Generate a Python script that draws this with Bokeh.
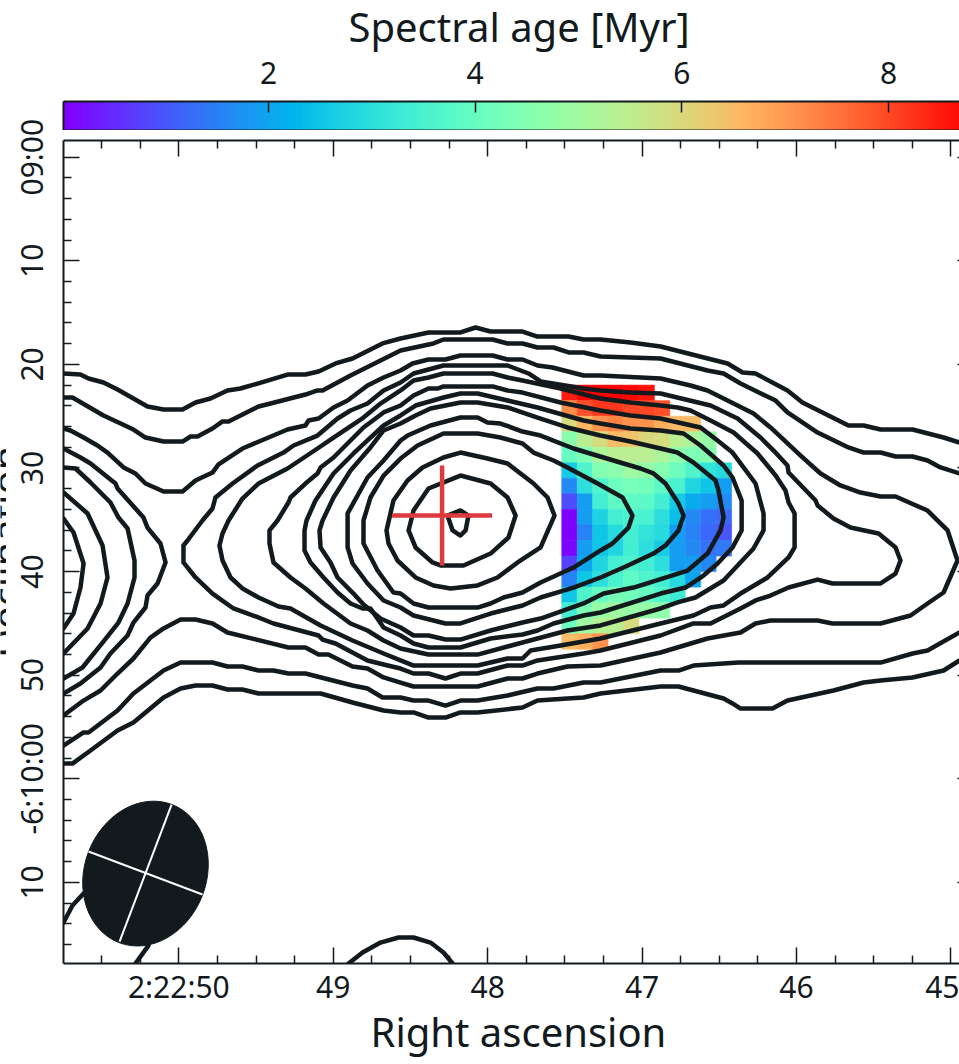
import numpy as np
from bokeh.embed import file_html
from bokeh.layouts import column, row
from bokeh.models import (ColumnDataSource, CustomLabelingPolicy, FixedTicker, Label, LinearAxis, LinearColorMapper, Range1d, Title)
from bokeh.plotting import figure
from bokeh.resources import INLINE
from bokeh.transform import transform

# ---- axis values -------------------------------------------------------
ra_major = [50, 49, 48, 47, 46, 45]
ra_labels = ["2:22:50", "49", "48", "47", "46", "45"]
dec_major = [0, 10, 20, 30, 40, 50, 60, 70]
dec_labels = ["09:00", "10", "20", "30", "40", "50", "-6:10:00", "10"]
age_major = [2, 4, 6, 8]
age_labels = ["2", "4", "6", "8"]

# ---- spectral age map (Myr); rows from north to south, columns east to west
N = None
age_rows = [
    [8.5, 8.8, 8.8, 8.8, 8.7, 8.6, N, N, N, N, N],
    [7.2, 7.9, 8.2, 8.2, 8.0, 8.0, 7.9, N, N, N, N],
    [5.9, 6.6, 7.1, 7.3, 7.1, 7.1, 6.7, 6.5, 6.5, N, N],
    [4.6, 5.4, 5.9, 6.5, 6.4, 6.0, 5.9, 5.4, 5.2, 4.8, N],
    [4.0, 4.4, 5.2, 5.4, 5.4, 5.4, 5.2, 4.7, 4.4, 4.5, N],
    [2.6, 3.6, 4.5, 4.6, 5.0, 4.8, 4.5, 4.1, 3.6, 3.1, 2.9],
    [1.6, 3.0, 3.6, 4.1, 4.3, 4.2, 3.8, 3.5, 2.8, 2.5, 1.9],
    [0.9, 1.9, 3.4, 3.9, 3.9, 3.8, 3.4, 2.6, 2.1, 1.9, 1.6],
    [0.0, 1.9, 2.7, 3.4, 3.5, 3.5, 3.0, 2.4, 1.6, 1.3, 1.2],
    [0.0, 1.5, 2.5, 2.9, 3.4, 3.1, 2.9, 1.9, 1.5, 1.2, 1.0],
    [0.1, 1.9, 2.5, 2.8, 3.4, 3.0, 2.6, 1.9, 1.6, 1.3, 1.4],
    [0.8, 2.0, 2.8, 3.4, 3.6, 3.4, 3.0, 1.9, 1.9, 1.6, N],
    [1.5, 2.5, 3.0, 3.5, 3.9, 3.6, 3.4, 2.9, 2.0, N, N],
    [2.5, 3.6, 4.0, 4.3, 4.2, 4.0, 3.6, 3.3, N, N, N],
    [3.4, 4.4, 4.8, 5.0, 4.8, 4.8, 4.7, N, N, N, N],
    [4.1, 5.0, 5.3, 5.4, 5.9, N, N, N, N, N, N],
    [6.5, 6.7, 7.1, N, N, N, N, N, N, N, N],
]
age_ra_start = 47.52
age_ra_step = 0.1
age_dec_start = 22.0
age_dec_step = 1.5

# ---- radio contours: right ascension (s after 2:22:00), declination (arcsec after -6:09:00)
c1_top_ra = [50.747,50.637,50.585,50.488,50.397,50.203,50.099,49.976,49.892,49.795,49.685,49.601,49.490,49.296,49.180,49.095,48.985,48.875,48.681,48.564,48.383,48.176,48.078,47.981,47.774,47.677,47.476,47.379,47.269,47.075,46.880,46.446,46.349,46.265,46.058,45.961,45.663,45.565,45.455,45.248,45.047,44.944]
c1_top_dec = [20.88,20.98,21.36,21.75,22.42,24.07,24.35,24.35,23.68,23.29,22.52,22.33,21.85,20.98,20.98,20.69,19.91,19.43,17.98,17.50,16.92,16.92,16.44,16.83,16.83,17.31,17.31,17.60,17.60,17.89,18.27,19.91,20.78,20.88,22.52,23.68,25.90,25.90,26.29,26.29,27.06,27.54]
c1_bot_ra = [50.747,50.689,50.572,50.397,50.294,50.099,49.989,49.892,49.782,49.685,49.588,49.484,49.082,48.875,48.674,48.564,48.480,48.383,48.273,48.176,48.065,47.774,47.677,47.483,47.379,47.269,46.880,46.764,46.472,46.414,46.362,46.155,46.058,45.760,45.565,45.455,45.248,45.047,44.944]
c1_bot_dec = [58.53,58.53,57.27,55.34,54.57,52.15,51.29,51.00,51.00,51.38,51.38,51.77,51.77,52.64,53.41,53.60,53.60,54.09,54.09,53.60,53.60,53.12,52.45,52.25,52.15,51.77,51.09,51.09,52.25,52.73,53.22,53.22,52.45,51.48,50.71,50.51,50.22,49.55,48.58]
c2_top_ra = [50.747,50.689,50.488,50.294,50.216,50.099,49.976,49.924,49.879,49.782,49.717,49.678,49.484,49.406,49.180,49.102,49.069,48.888,48.564,48.351,48.286,47.968,47.871,47.774,47.677,47.573,47.476,47.379,47.269,46.880,46.576,46.472,46.362,46.135,46.058,45.863,45.663,45.565,45.455,45.358,45.248,45.151,45.067,44.944]
c2_top_dec = [23.20,23.20,24.93,26.29,27.06,27.45,27.45,26.96,26.96,26.19,25.51,25.51,24.07,23.78,22.91,22.52,22.52,21.07,18.66,17.98,17.60,17.60,17.98,17.98,18.37,18.37,18.85,18.85,19.24,19.43,20.59,20.88,21.85,23.49,24.64,26.58,28.02,28.51,28.51,28.89,28.89,29.28,29.95,30.53]
c2_bot_ra = [50.747,50.617,50.585,50.397,50.294,50.099,49.989,49.782,49.685,49.588,49.484,49.387,49.290,49.180,48.875,48.778,48.681,48.564,48.480,48.383,48.273,48.176,48.065,47.871,47.677,47.573,47.379,47.269,46.880,46.764,46.667,46.472,46.375,45.455,45.248,45.151,44.944]
c2_bot_dec = [56.79,55.53,55.53,53.41,51.77,49.55,48.78,48.78,49.16,49.16,49.55,49.55,49.84,49.84,51.00,51.29,52.15,52.15,52.45,52.45,52.93,52.45,52.45,51.96,51.29,51.29,50.71,50.71,49.55,49.55,49.07,48.87,48.78,48.78,47.91,47.62,45.88]
c3_ra = [50.747,50.702,50.617,50.527,50.462,50.358,50.281,50.216,50.099,49.976,49.892,49.782,49.743,49.588,49.419,49.296,49.180,49.160,49.095,48.998,48.907,48.778,48.674,48.564,48.487,48.383,48.273,48.176,47.968,47.871,47.774,47.677,47.580,47.379,47.269,46.880,46.686,46.576,46.472,46.278,46.168,45.973,45.844,45.715,45.585,45.455,45.358,45.151,45.021,44.957,45.047,45.151,45.261,45.455,45.766,45.863,46.168,46.265,46.362,46.576,46.880,47.269,47.483,47.677,47.774,47.871,48.065,48.480,48.564,48.674,48.778,48.875,49.031,49.095,49.180,49.290,49.685,49.782,49.892,49.989,50.099,50.184,50.294,50.397,50.507,50.617,50.747]
c3_dec = [26.19,26.38,27.06,27.83,28.51,29.95,30.53,31.50,32.27,32.27,31.21,30.44,29.66,28.12,27.06,26.29,25.90,25.42,25.22,24.16,23.49,22.04,21.27,20.59,19.91,19.53,19.53,19.14,19.14,19.53,19.53,20.11,20.30,21.07,21.07,21.36,22.04,22.52,23.29,24.74,26.09,28.80,30.53,31.69,32.37,32.75,32.75,34.11,36.03,38.93,42.02,43.08,44.24,45.01,45.01,44.72,44.72,45.01,45.88,46.46,47.81,49.07,49.16,49.84,50.32,50.32,51.09,51.09,50.71,50.22,49.36,49.16,48.01,48.01,47.33,47.33,45.88,45.01,44.63,44.63,45.49,46.37,48.39,49.84,51.48,52.45,53.89]
c4_ra = [49.970,49.944,49.847,49.782,49.763,49.652,49.490,49.322,49.257,49.102,48.972,48.888,48.778,48.674,48.564,48.480,48.286,47.871,47.735,47.657,47.379,47.269,47.075,46.880,46.556,46.381,46.233,46.148,46.058,46.051,45.876,45.863,45.760,45.650,45.468,45.358,45.326,45.358,45.455,45.766,45.863,46.051,46.168,46.265,46.362,46.556,46.667,46.880,47.269,47.379,47.677,47.774,47.871,48.065,48.176,48.273,48.383,48.480,48.564,48.674,48.778,48.985,49.069,49.095,49.290,49.387,49.484,49.646,49.782,49.892,49.970]
c4_dec = [37.48,37.00,35.07,33.91,32.85,31.50,29.76,28.51,27.83,26.87,25.22,24.45,23.78,22.52,21.75,20.88,20.11,20.11,20.88,21.65,22.33,22.52,22.72,22.81,23.97,25.22,27.06,28.32,29.76,30.44,33.14,33.62,34.88,35.75,36.32,37.67,38.93,40.19,41.15,41.15,40.77,41.54,42.31,42.79,43.56,45.01,45.01,46.17,47.62,47.91,48.58,49.07,49.07,49.84,49.84,50.32,49.84,49.84,49.36,48.97,48.58,46.94,46.56,46.17,45.40,45.01,44.43,43.56,42.12,40.57,39.12]
c5_ra = [49.737,49.717,49.678,49.588,49.484,49.296,49.102,48.998,48.804,48.694,48.564,48.480,48.383,48.286,47.968,47.871,47.774,47.528,47.269,47.075,46.880,46.770,46.686,46.556,46.407,46.252,46.135,46.071,46.051,46.012,46.012,46.051,46.187,46.362,46.472,46.556,46.667,46.880,47.269,47.528,47.722,47.774,47.871,48.065,48.480,48.564,48.674,48.875,49.082,49.277,49.354,49.484,49.588,49.665,49.717]
c5_dec = [37.48,36.32,35.07,32.95,31.50,30.05,28.12,27.06,25.13,23.78,22.52,21.56,21.27,20.88,20.88,21.27,21.56,22.33,23.29,23.68,23.97,24.16,24.45,25.42,26.58,28.60,30.73,32.17,33.33,34.39,37.67,38.64,40.57,42.12,43.27,43.47,44.24,45.01,46.46,47.14,47.62,48.39,48.39,49.07,49.07,48.58,47.91,46.65,45.20,43.56,43.37,42.50,41.63,40.57,38.93]
c6_ra = [49.413,49.413,49.361,49.290,49.277,49.180,49.102,49.082,48.998,48.804,48.674,48.564,48.480,48.383,48.325,48.286,47.968,47.871,47.774,47.528,47.269,47.075,46.880,46.621,46.511,46.414,46.265,46.213,46.213,46.278,46.472,46.654,46.770,46.880,47.269,47.483,47.677,47.871,48.065,48.383,48.564,48.674,48.778,48.888,49.063,49.180,49.277,49.387]
c6_dec = [37.29,36.03,35.07,33.33,32.85,31.50,30.53,29.95,28.99,26.09,24.64,23.97,23.00,22.33,22.33,22.13,22.13,22.52,22.72,23.68,24.45,24.93,25.22,26.09,27.35,28.51,31.50,34.39,36.03,37.77,40.86,42.50,42.98,43.56,45.20,45.69,46.46,47.23,48.01,48.01,47.43,46.65,45.69,45.01,43.08,41.63,40.57,39.12]
c7_ra = [49.186,49.186,49.173,49.115,48.998,48.869,48.759,48.674,48.564,48.467,48.286,48.176,48.065,47.871,47.677,47.379,47.269,47.075,46.880,46.731,46.621,46.472,46.414,46.355,46.355,46.414,46.511,46.602,46.718,46.880,47.269,47.379,47.573,47.677,47.774,47.981,48.176,48.383,48.480,48.564,48.674,48.759,48.810,48.888,48.972,49.063,49.147]
c7_dec = [37.96,36.03,35.07,33.14,30.53,28.60,27.06,25.90,24.93,23.97,23.20,22.81,22.81,23.49,24.16,25.42,25.71,26.19,26.38,26.67,27.83,29.76,30.92,33.14,36.03,37.67,39.22,40.38,41.54,42.12,43.95,44.24,45.01,45.69,46.07,46.46,47.33,47.33,46.94,46.17,45.40,43.56,43.56,43.08,42.02,40.57,39.12]
c8_ra = [49.082,49.089,49.069,48.998,48.888,48.759,48.674,48.564,48.467,48.370,48.176,48.065,47.871,47.677,47.483,47.269,47.075,46.880,46.770,46.667,46.524,46.505,46.472,46.492,46.576,46.705,47.055,47.249,47.379,47.657,47.774,47.981,48.176,48.273,48.383,48.480,48.564,48.694,48.804,48.869,48.972,49.018]
c8_dec = [37.67,36.03,35.07,32.85,30.24,28.02,26.38,25.71,24.93,24.26,23.68,23.68,24.16,25.13,26.09,26.87,27.45,28.12,28.51,29.47,31.21,32.17,34.78,36.03,38.26,39.90,41.54,42.12,43.08,44.53,44.92,45.69,46.56,46.56,46.17,46.17,45.40,44.53,43.18,42.12,40.57,39.12]
c9_ra = [48.907,48.907,48.778,48.674,48.564,48.519,48.370,48.176,48.065,48.001,47.917,47.774,47.657,47.444,47.120,47.010,46.926,46.848,46.764,46.731,46.764,46.848,46.926,47.120,47.269,47.444,47.657,47.774,47.981,48.176,48.273,48.480,48.564,48.674,48.778,48.875]
c9_dec = [37.67,34.39,30.92,29.28,27.35,26.87,25.90,25.13,25.13,25.61,25.71,26.48,26.87,28.12,29.57,30.05,30.53,31.50,33.43,34.59,36.03,37.48,38.26,39.61,40.57,41.54,42.50,43.27,44.05,45.01,45.01,44.24,43.47,42.79,41.15,39.22]
c10_ra = [48.804,48.804,48.759,48.674,48.564,48.454,48.286,48.065,47.917,47.774,47.703,47.573,47.483,47.288,47.126,47.062,47.088,47.191,47.269,47.444,47.657,47.774,47.897,47.981,48.065,48.383,48.480,48.564,48.610,48.713]
c10_dec = [37.29,35.07,32.85,30.73,29.09,27.83,26.67,26.67,27.06,27.64,28.51,29.28,29.95,31.50,32.85,34.59,35.75,37.29,37.96,39.61,41.05,42.02,42.50,43.08,43.47,43.47,43.08,42.12,42.02,39.90]
c11_ra = [48.655,48.610,48.519,48.422,48.286,48.176,48.001,47.871,47.703,47.612,47.567,47.657,47.806,47.936,48.065,48.240,48.351,48.467,48.584,48.642]
c11_dec = [36.03,33.14,31.21,29.95,28.99,28.51,29.09,29.57,31.50,32.85,34.59,37.67,39.12,40.57,41.34,41.63,41.34,40.57,38.93,37.29]
c12_ra = [48.512,48.480,48.383,48.176,47.981,47.871,47.819,47.865,47.981,48.156,48.305,48.357,48.467]
c12_dec = [36.03,34.10,31.98,30.73,31.50,32.85,34.59,36.71,38.26,39.41,39.41,39.12,37.67]
c13_ra = [48.260,48.227,48.176,48.143,48.124,48.176]
c13_dec = [34.59,36.03,36.52,36.03,34.59,34.10]
l4_ra = [50.747,50.637,50.572,50.410,50.397,50.229,50.203,50.119,50.086,50.138,50.203,50.216,50.294,50.332,50.443,50.507,50.637,50.747]
l4_dec = [28.12,28.99,29.57,31.50,31.98,34.78,35.75,37.29,39.12,41.15,42.31,43.47,44.92,46.17,47.91,49.26,50.80,51.77]
l5_ra = [50.747,50.669,50.572,50.443,50.391,50.332,50.287,50.287,50.332,50.391,50.494,50.624,50.747]
l5_dec = [29.95,30.05,31.40,33.33,34.78,35.84,38.93,40.57,43.08,44.92,46.85,49.26,50.32]
l6_ra = [50.747,50.591,50.494,50.462,50.507,50.591,50.747]
l6_dec = [32.37,34.39,37.48,40.57,43.08,45.49,47.91]
l7_ra = [50.747,50.682,50.617,50.637,50.682,50.747]
l7_dec = [34.88,36.23,39.22,41.54,44.05,45.49]
b1_ra = [50.747,50.689,50.617,50.378,50.184,50.197,50.281]
b1_dec = [73.88,72.23,71.08,69.82,72.72,76.10,77.83]
b2_ra = [48.901,48.810,48.694,48.577,48.480,48.370,48.286,48.227]
b2_dec = [77.83,76.77,75.81,75.32,75.32,75.81,76.77,77.83]

# ---- core position and beam
core_ra = 48.295
core_dec = 34.59
core_half_ra = 0.324
core_half_dec = 4.83
beam_ra = 50.216
beam_dec = 69.15
beam_minor_ra = [50.585, 49.847]
beam_minor_dec = [67.02, 71.17]
beam_major_ra = [50.047, 50.384]
beam_major_dec = [62.49, 75.71]

# ---- styling ----------------------------------------------------------
INK = "#121a1e"
FONT = "Noto Sans"
W = 959
LEFT = 63
STRIP = 6
no_labels = CustomLabelingPolicy(code="for (const i of indices) indices.unset(i); return indices")


def rainbow(n=256):
    out = []
    for t in np.linspace(0, 1, n):
        r, g, b = abs(2 * t - 0.5), np.sin(np.pi * t), np.cos(np.pi * t / 2)
        out.append("#%02x%02x%02x" % tuple(int(round(255 * min(max(c, 0), 1))) for c in (r, g, b)))
    return out


mapper = LinearColorMapper(palette=rainbow(), low=0.016, high=8.82)


def plain_axis():
    return LinearAxis(ticker=FixedTicker(ticks=[]), axis_line_color=INK, axis_line_width=2,
                      major_tick_line_color=None, minor_tick_line_color=None, major_tick_out=0, minor_tick_out=0,
                      major_label_text_font_size="1px", major_label_standoff=0)


# ---- colour bar --------------------------------------------------------
cb = figure(width=W, height=139, output_backend="svg", toolbar_location=None,
            x_range=Range1d(0.016, 8.687), y_range=Range1d(0, 1),
            min_border_left=LEFT, min_border_right=0, min_border_top=109, min_border_bottom=0,
            x_axis_type=None, y_axis_type=None, outline_line_color=None, margin=(-9, 0, 0, 0))
cb.grid.visible = False
cb.image(image=[np.linspace(0.016, 8.82, 600)[None, :]], x=0.016, y=0, dw=8.804, dh=1, color_mapper=mapper)
top = LinearAxis(ticker=FixedTicker(ticks=age_major), axis_line_color=INK, axis_line_width=2,
                 major_tick_in=11, major_tick_out=0, major_tick_line_color=INK, major_tick_line_width=1.5,
                 minor_tick_line_color=None, major_label_overrides=dict(zip(age_major, age_labels)),
                 major_label_text_font=FONT, major_label_text_font_size="30px",
                 major_label_text_color=INK, major_label_standoff=18)
cb.add_layout(top, "above")
cb.add_layout(plain_axis(), "below")
cb.add_layout(plain_axis(), "left")
cb.add_layout(Title(text="Spectral age [Myr]", align="left", offset=285, text_font=FONT, text_font_size="40px",
                    text_font_style="normal", text_color=INK), "above")

# ---- main map ----------------------------------------------------------
p = figure(width=W - STRIP, height=963, output_backend="svg", toolbar_location=None,
           x_range=Range1d(50.747, 44.944), y_range=Range1d(77.83, -1.61),
           min_border_left=LEFT - STRIP, min_border_right=0, min_border_top=40, min_border_bottom=100,
           x_axis_type=None, y_axis_type=None, outline_line_color=None, border_fill_color=None,
           background_fill_color=None)
p.grid.visible = False

left, right, north, south, vals = [], [], [], [], []
for i, r in enumerate(age_rows):
    for j, v in enumerate(r):
        if v is None:
            continue
        left.append(age_ra_start - j * age_ra_step)
        right.append(age_ra_start - (j + 1) * age_ra_step)
        north.append(age_dec_start + i * age_dec_step)
        south.append(age_dec_start + (i + 1) * age_dec_step)
        vals.append(v)
src = ColumnDataSource(dict(left=left, right=right, top=north, bottom=south, v=vals))
p.quad(left="left", right="right", top="top", bottom="bottom", source=src,
       fill_color=transform("v", mapper), line_color=transform("v", mapper), line_width=0.6)

open_lines = [(c1_top_ra, c1_top_dec), (c1_bot_ra, c1_bot_dec), (c2_top_ra, c2_top_dec), (c2_bot_ra, c2_bot_dec),
              (c3_ra, c3_dec), (l4_ra, l4_dec), (l5_ra, l5_dec), (l6_ra, l6_dec), (l7_ra, l7_dec),
              (b1_ra, b1_dec), (b2_ra, b2_dec)]
closed_lines = [(c4_ra, c4_dec), (c5_ra, c5_dec), (c6_ra, c6_dec), (c7_ra, c7_dec), (c8_ra, c8_dec),
                (c9_ra, c9_dec), (c10_ra, c10_dec), (c11_ra, c11_dec), (c12_ra, c12_dec), (c13_ra, c13_dec)]
xs = [a for a, _ in open_lines] + [a + a[:1] for a, _ in closed_lines]
ys = [b for _, b in open_lines] + [b + b[:1] for _, b in closed_lines]
p.multi_line(xs, ys, line_color=INK, line_width=4.5, line_join="round", line_cap="round")

p.segment([core_ra - core_half_ra, core_ra], [core_dec, core_dec - core_half_dec],
          [core_ra + core_half_ra, core_ra], [core_dec, core_dec + core_half_dec],
          line_color="#dc3a3c", line_width=4.5)

p.ellipse(x=[beam_ra], y=[beam_dec], width=122, height=148, width_units="screen", height_units="screen",
          angle=-21, angle_units="deg", fill_color=INK, line_color=INK, line_width=1)
p.multi_line([beam_minor_ra, beam_major_ra], [beam_minor_dec, beam_major_dec], line_color="white", line_width=2)

ra_minor = [50.5, 50.25, 49.75, 49.5, 49.25, 48.75, 48.5, 48.25, 47.75, 47.5, 47.25, 46.75, 46.5, 46.25, 45.75, 45.5, 45.25]
dec_minor = [v for v in range(0, 78, 2) if v % 10 != 0]
ra_ticks = FixedTicker(ticks=ra_major, minor_ticks=ra_minor)
dec_ticks = FixedTicker(ticks=dec_major, minor_ticks=dec_minor)


def ticked(ticker, labelled, overrides=None):
    ax = LinearAxis(ticker=ticker, axis_line_color=INK, axis_line_width=2,
                    major_tick_in=16, major_tick_out=0, minor_tick_in=8, minor_tick_out=0,
                    major_tick_line_color=INK, minor_tick_line_color=INK,
                    major_tick_line_width=1.5, minor_tick_line_width=1.5,
                    major_label_text_font=FONT, major_label_text_color=INK,
                    major_label_text_font_size="30px" if labelled else "0px",
                    major_label_standoff=2 if labelled else 0)
    if overrides:
        ax.major_label_overrides = overrides
    if not labelled:
        ax.major_label_policy = no_labels
    return ax


p.add_layout(ticked(ra_ticks, True, dict(zip(ra_major, ra_labels))), "below")
p.add_layout(ticked(ra_ticks, False), "above")
ya = ticked(dec_ticks, True, dict(zip(dec_major, dec_labels)))
ya.major_label_orientation = "vertical"
ya.major_label_standoff = 11
p.add_layout(ya, "left")
yr = ticked(dec_ticks, False)
yr.major_tick_in = 2
yr.minor_tick_in = 0
yr.axis_line_color = None
p.add_layout(yr, "right")
p.add_layout(Title(text="Right ascension", align="left", offset=307, standoff=-15, text_font=FONT, text_font_size="40px",
                   text_font_style="normal", text_color=INK), "below")

# ---- strip holding the declination axis title, cut by the page edge as in the source
strip = figure(width=STRIP, height=963, output_backend="svg", toolbar_location=None,
               x_range=Range1d(0, 1), y_range=Range1d(77.83, -1.61),
               min_border_left=0, min_border_right=0, min_border_top=40, min_border_bottom=100,
               x_axis_type=None, y_axis_type=None, outline_line_color=None, border_fill_color=None,
               background_fill_color=None)
strip.grid.visible = False
strip.add_layout(Label(x=5, y=38.1, x_units="screen", text="Declination", text_font=FONT, text_font_size="40px",
                       text_color=INK, text_align="center", text_baseline="alphabetic", angle=np.pi / 2))

page = column(cb, row(strip, p, spacing=0, margin=(-30, 0, 0, 0)), spacing=0)
open("out.html", "w").write(file_html(page, INLINE))
